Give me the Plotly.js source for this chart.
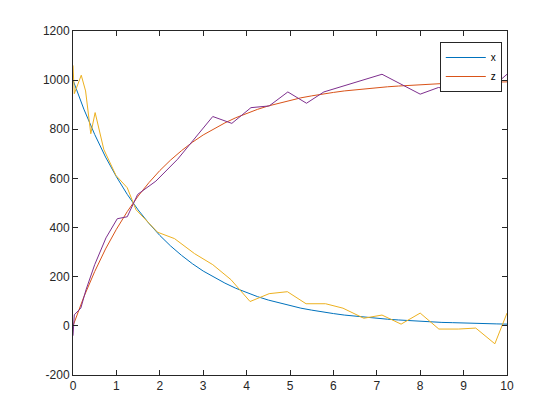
<!DOCTYPE html>
<html>
<head>
<meta charset="utf-8">
<script src="https://cdn.plot.ly/plotly-3.0.1.min.js"></script>
<style>html,body{margin:0;padding:0;background:#fff;}#chart{width:560px;height:420px;}</style>
</head>
<body>
<div id="chart"></div>
<script>
// smooth curves at t = 0, 0.25, ..., 10
const tSmooth = [0,0.25,0.5,0.75,1,1.25,1.5,1.75,2,2.25,2.5,2.75,3,3.25,3.5,3.75,4,4.25,4.5,4.75,5,5.25,5.5,5.75,6,6.25,6.5,6.75,7,7.25,7.5,7.75,8,8.25,8.5,8.75,9,9.25,9.5,9.75,10];
const xValues = [1000,882,779,687,607,535,472,417,368,325,287,253,223,197,174,153,135,119,105,93,82,72,64,56,50,44,39,34,30,27,24,21,18,16,14,13,11,10,9,8,7];
const zValues = [0,118,221,313,393,465,528,583,632,675,713,747,777,803,826,847,865,881,895,907,918,928,936,944,950,956,961,966,970,973,976,979,982,984,986,987,989,990,991,992,993];

// noisy decay (yellow)
const tNoisyX = [0,0.03,0.19,0.29,0.41,0.51,0.71,0.99,1.25,1.45,1.95,2.34,2.8,3.22,3.64,4.08,4.52,4.94,5.37,5.82,6.22,6.7,7.12,7.56,8.0,8.43,8.88,9.28,9.72,10];
const noisyX  = [1060,945,1020,956,782,868,718,612,562,473,381,355,294,249,188,99,131,139,90,90,72,31,44,7,52,-13,-13,-9,-73,52];

// noisy rise (purple)
const tNoisyZ = [0,0.03,0.18,0.3,0.5,0.76,1.02,1.25,1.49,1.91,2.41,3.22,3.66,4.1,4.52,4.95,5.38,5.78,7.12,8.0,8.42,8.84,9.28,9.72,10];
const noisyZ  = [-40,45,72,147,249,358,436,444,535,589,678,852,824,888,895,952,906,952,1024,943,970,960,1040,981,1024];

const xTicks = [0,1,2,3,4,5,6,7,8,9,10];
const yTicks = [-200,0,200,400,600,800,1000,1200];

const traces = [
  {x: tSmooth, y: xValues, name: 'x', mode: 'lines', line: {color: '#0072BD', width: 1}},
  {x: tSmooth, y: zValues, name: 'z', mode: 'lines', line: {color: '#D95319', width: 1}},
  {x: tNoisyX, y: noisyX, mode: 'lines', showlegend: false, line: {color: '#EDB120', width: 1}},
  {x: tNoisyZ, y: noisyZ, mode: 'lines', showlegend: false, line: {color: '#7E2F8E', width: 1}}
];

const axisCommon = {
  showgrid: false, zeroline: false, showline: true, mirror: 'ticks',
  linecolor: '#262626', linewidth: 1, ticks: 'inside', ticklen: 5,
  tickcolor: '#262626', tickfont: {family: 'Liberation Sans, Arial, sans-serif', size: 12, color: '#262626'}
};

const layout = {
  width: 560, height: 420,
  margin: {l: 73, r: 53, t: 31, b: 45},
  paper_bgcolor: '#fff', plot_bgcolor: '#fff',
  showlegend: true,
  legend: {x: 0.988, xanchor: 'right', y: 0.968, yanchor: 'top',
    bgcolor: '#fff', bordercolor: '#262626', borderwidth: 1,
    font: {family: 'Liberation Sans, Arial, sans-serif', size: 10, color: '#000'},
    itemwidth: 40, tracegroupgap: 0},
  xaxis: Object.assign({}, axisCommon, {range: [0, 10], tickvals: xTicks, ticktext: xTicks.map(String)}),
  yaxis: Object.assign({}, axisCommon, {range: [-200, 1200], tickvals: yTicks, ticktext: yTicks.map(String)})
};

Plotly.newPlot('chart', traces, layout, {displayModeBar: false, staticPlot: true});
</script>
</body>
</html>
